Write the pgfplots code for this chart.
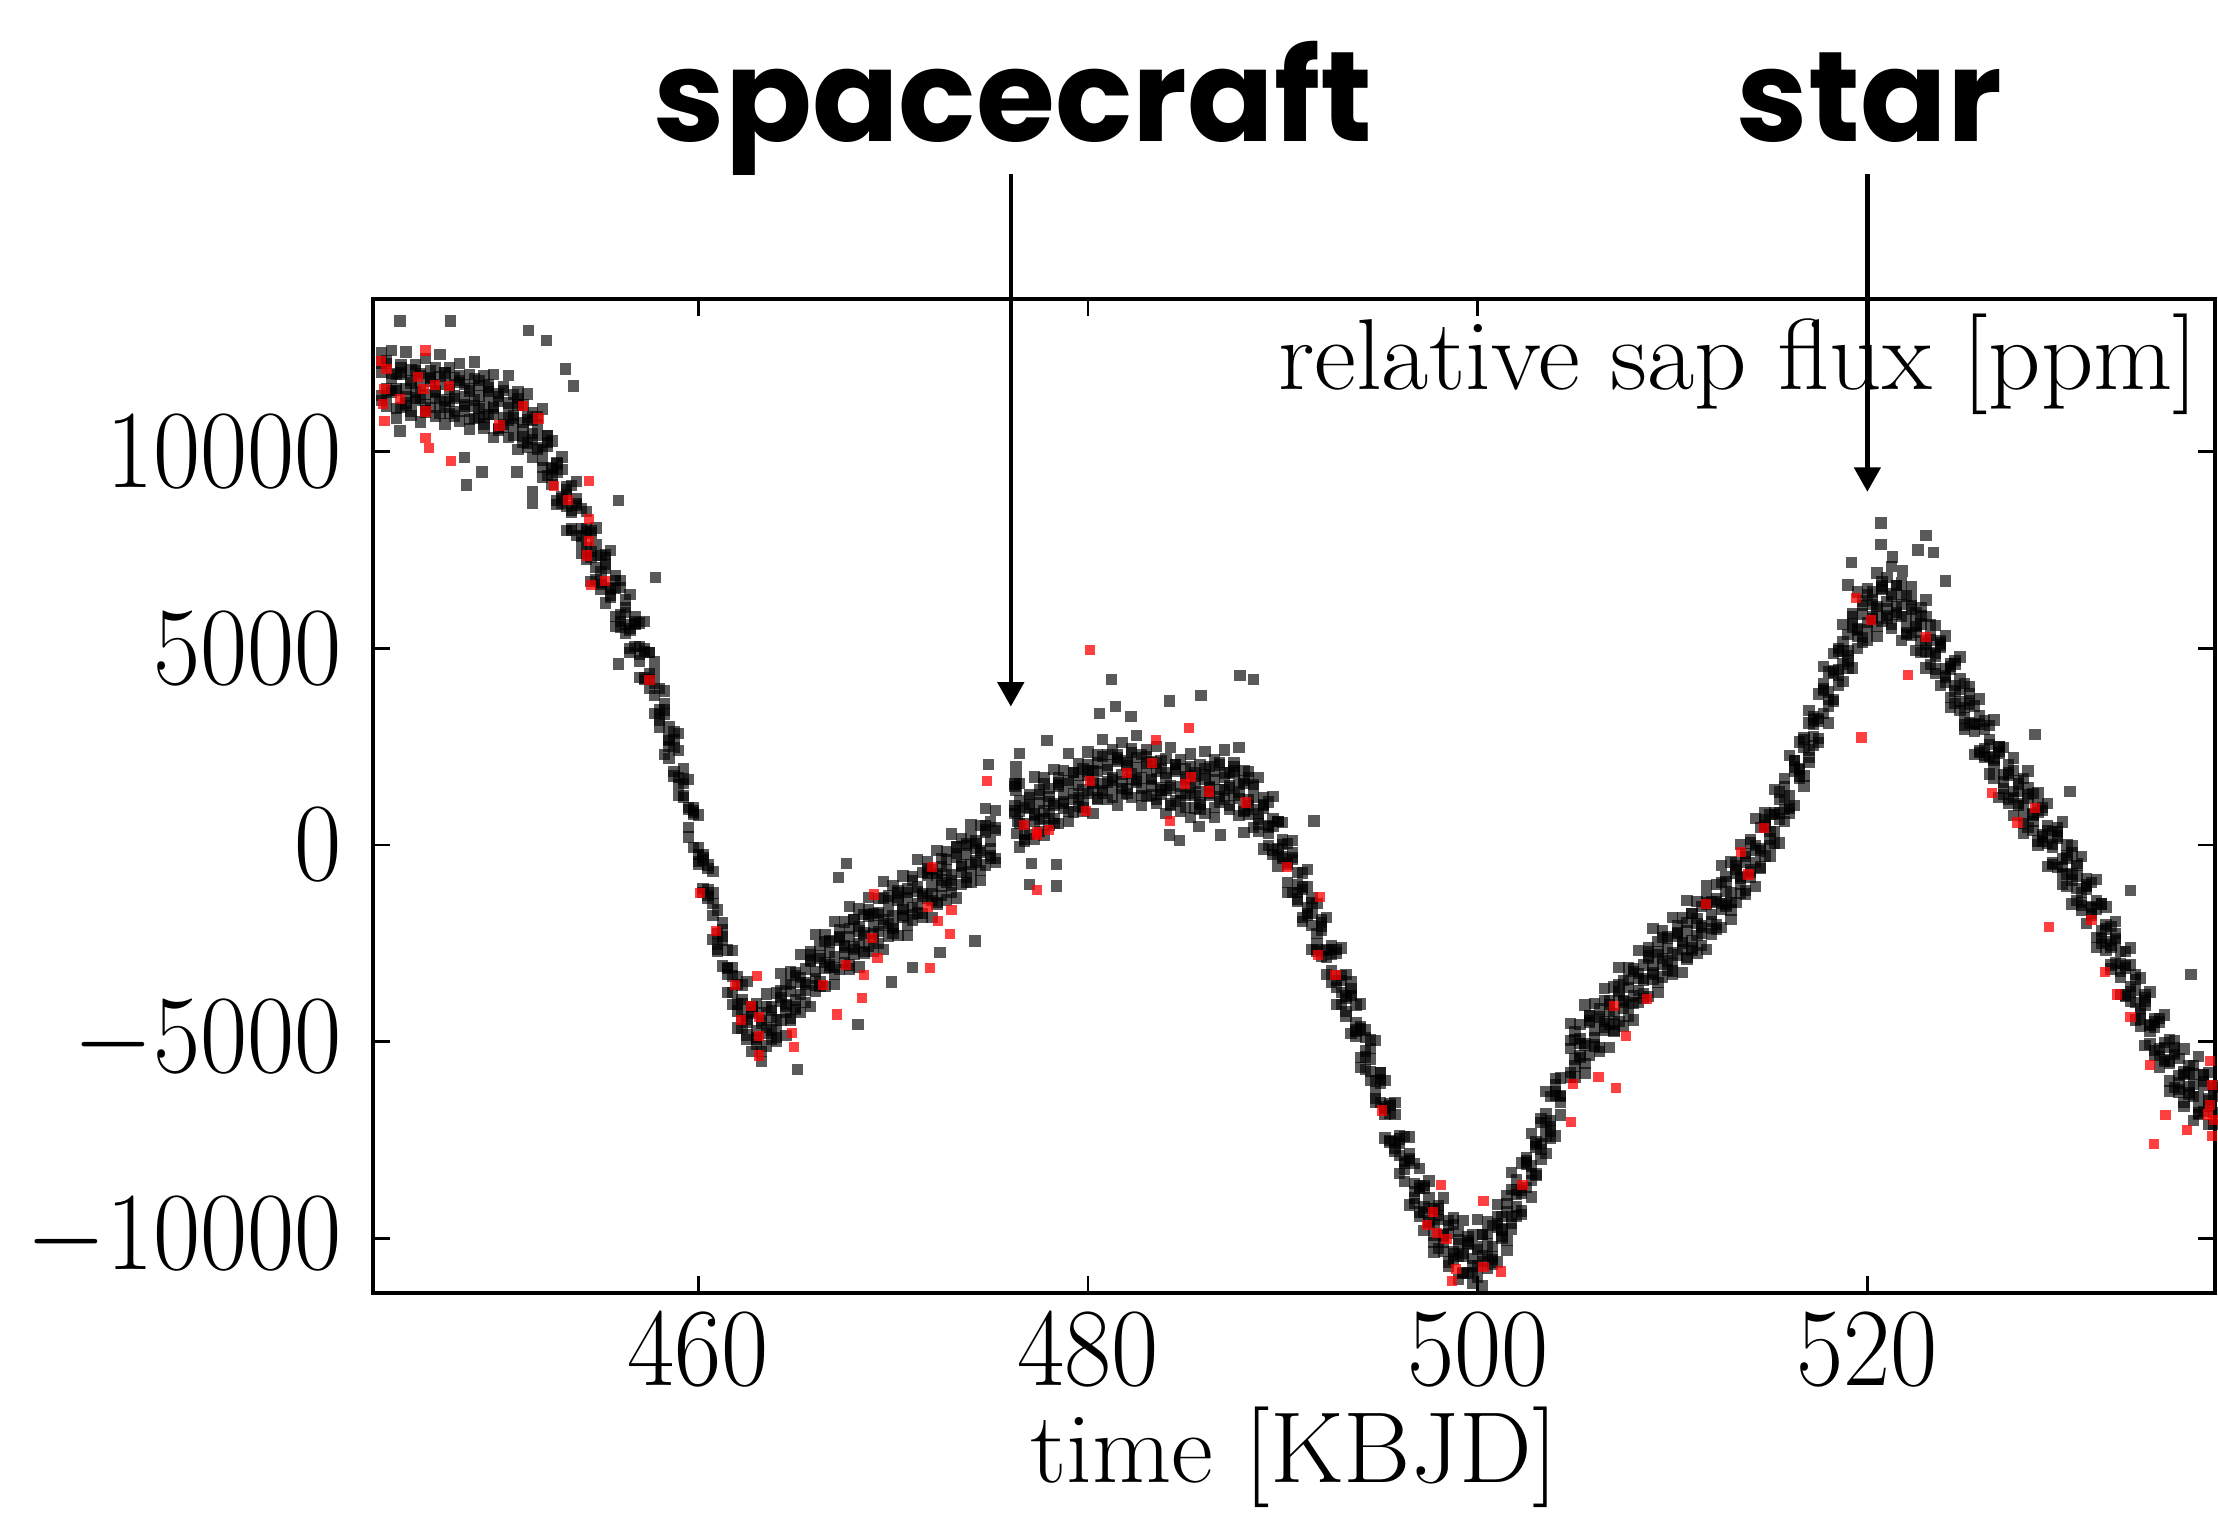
\documentclass[border=0pt]{standalone}
\usepackage{pgfplots}
\pgfplotsset{compat=1.18}
\usepackage{pgfplotstable}
\usepackage{graphicx}
\usepackage{fontspec}
\newfontfamily\pop{Poppins}
\usetikzlibrary{arrows.meta}

% light curve: for each time five readings across the band
\pgfplotstableread{
x a b c d e
443.75 12520 11420 12020 12230 11300
444.00 12230 11150 11610 11430 12300
444.25 12560 11500 11860 11980 11550
444.50 11950 10850 11550 11610 11100
444.75 12220 11120 11960 12010 12130
445.00 12530 11170 11590 11230 11400
445.25 12070 10920 11740 11800 11020
445.50 12220 11300 11360 11510 12050
445.75 11980 10750 11660 11930 11350
446.00 12360 11040 11450 11180 11000
446.25 11850 11120 11880 11780 12050
446.50 12140 10900 11540 11510 11350
446.75 12460 11280 11700 11910 10980
447.00 12000 10700 11310 11130 12000
447.25 12140 10960 11580 11700 11270
447.50 11880 11020 11350 11410 10900
447.75 12240 10780 11760 11810 11930
448.00 11700 11150 11390 11030 11200
448.25 11960 10570 11540 11600 10820
448.50 12280 10840 11160 11310 11850
448.75 11800 10870 11410 11680 11100
449.00 11920 10600 11150 10880 10700
449.25 11630 10950 11530 11430 11700
449.50 11960 10350 11140 11110 10950
449.75 11400 10590 11270 11480 10550
450.00 11640 10620 10860 10680 11550
450.25 11930 10350 11110 11230 10800
450.50 11450 10700 10850 10910 10400
450.75 11520 10050 11180 11230 11350
451.00 11180 10240 10740 10380 10550
451.25 11460 10220 10820 10880 10100
451.50 10800 9850 10310 10460 11000
451.75 10890 10050 10410 10680 10100
452.00 11080 9350 10050 9780 9600
452.25 10400 9390 10230 10130 10400
452.50 10270 9170 9590 9560 9400
452.75 9730 8650 9470 9680 8750
453.00 9860 8800 8860 8680 9550
453.25 9100 8000 8910 9030 8600
453.50 9140 8040 8450 8510 8000
453.75 9230 7870 8630 8680 8800
454.00 8550 7400 8040 7680 7850
454.25 8470 7550 7970 8030 7250
454.50 7930 6700 7310 7460 8000
454.75 8060 6740 7360 7630 7050
455.00 7350 6620 6950 6680 6500
455.25 7390 6150 7130 7030 7300
455.50 7480 6300 6540 6510 6350
455.75 6850 5550 6520 6730 5800
456.00 6720 5540 5860 5680 6550
456.25 6230 5370 5910 6030 5600
456.50 6360 4900 5450 5510 5000
456.75 5600 5050 5630 5680 5800
457.00 5640 4250 5040 4680 4850
457.25 5680 4240 4920 4980 4200
457.50 4900 3970 4210 4360 4900
457.75 4670 3350 4110 4380 3800
458.00 3980 3300 3450 3180 3000
458.25 3910 2300 3430 3330 3600
458.50 3000 2190 2690 2660 2500
458.75 2890 1870 2470 2680 1750
459.00 2830 1250 1710 1530 2400
459.25 1950 1200 1560 1680 1250
459.50 1670 200 900 960 450
459.75 880 -60 780 830 950
460.00 760 -480 -60 -420 -250
460.25 -250 -1200 -380 -320 -1100
460.50 -510 -1350 -1290 -1140 -600
460.75 -670 -2400 -1490 -1220 -1800
461.00 -1650 -2660 -2250 -2520 -2700
461.25 -1980 -3080 -2320 -2420 -2150
461.50 -2670 -3750 -3110 -3140 -3300
461.75 -2690 -3750 -3330 -3120 -4050
462.00 -3550 -4650 -4040 -4220 -3350
462.25 -3560 -4660 -4040 -3920 -4350
462.50 -3470 -4830 -4500 -4440 -4950
462.75 -4100 -5250 -4270 -4220 -4100
463.00 -4030 -4950 -4710 -5070 -4900
463.25 -4270 -5500 -4530 -4470 -5250
463.50 -3790 -5110 -4790 -4640 -4100
463.75 -4200 -4930 -4390 -4120 -4700
464.00 -3760 -5000 -4450 -4720 -4900
464.25 -3270 -4450 -3870 -3970 -3700
464.50 -3550 -4850 -4060 -4090 -4250
464.75 -3230 -4410 -3730 -3520 -4450
465.00 -3320 -4180 -3940 -4120 -3250
465.25 -2790 -4250 -3490 -3370 -3800
465.50 -3150 -3700 -3550 -3490 -4000
465.75 -2710 -4100 -2970 -2920 -2800
466.00 -2270 -3710 -3210 -3570 -3400
466.25 -2550 -3480 -2880 -2820 -3600
466.50 -2280 -3600 -3140 -2990 -2450
466.75 -2420 -3100 -2740 -2470 -3050
467.00 -1940 -3550 -2850 -3120 -3300
467.25 -2350 -3160 -2320 -2420 -2150
467.50 -1960 -2980 -2560 -2590 -2750
467.75 -1570 -3150 -2330 -2120 -3050
468.00 -1900 -2650 -2590 -2770 -1900
468.25 -1630 -3100 -2190 -2070 -2500
468.50 -1770 -2710 -2300 -2240 -2750
468.75 -1340 -2580 -1820 -1770 -1650
469.00 -1750 -2700 -2060 -2420 -2250
469.25 -1360 -2200 -1780 -1720 -2500
469.50 -920 -2650 -2040 -1890 -1350
469.75 -1300 -2310 -1690 -1420 -2000
470.00 -1030 -2130 -1800 -2070 -2250
470.25 -1220 -2300 -1320 -1420 -1150
470.50 -790 -1850 -1610 -1640 -1800
470.75 -1200 -2300 -1330 -1120 -2050
471.00 -810 -1910 -1590 -1770 -900
471.25 -370 -1730 -1190 -1070 -1500
471.50 -700 -1850 -1300 -1240 -1750
471.75 -430 -1350 -770 -720 -600
472.00 -620 -1850 -1060 -1420 -1250
472.25 -140 -1460 -780 -720 -1500
472.50 -550 -1280 -1040 -890 -350
472.75 -160 -1400 -640 -370 -950
473.00 280 -900 -750 -1020 -1200
473.25 -50 -1350 -220 -320 -50
473.50 170 -1010 -510 -540 -700
473.75 30 -830 -230 -20 -950
474.00 510 -950 -490 -670 200
474.25 100 -450 -90 30 -400
474.50 490 -900 -200 -140 -650
474.75 930 -510 330 380 500
475.00 600 -330 90 -270 -100
475.25 870 -450 370 430 -350
476.25 1480 800 860 1010 1550
476.50 1560 -50 860 1130 550
476.75 950 140 550 280 100
477.00 1290 270 1030 930 1200
477.25 1730 150 790 760 600
477.50 1400 650 1070 1280 350
477.75 1720 250 860 680 1550
478.00 1430 490 1110 1230 800
478.25 1910 670 1000 1060 550
478.50 1500 550 1530 1580 1700
478.75 1890 1050 1290 930 1100
479.00 2330 600 1570 1630 850
479.25 1850 840 1160 1310 1850
479.50 2070 970 1510 1780 1200
479.75 1930 850 1400 1130 950
480.00 2360 1300 1880 1780 2050
480.25 1900 800 1590 1560 1400
480.50 2290 1190 1870 2080 1150
480.75 2680 1320 1560 1380 2250
481.00 2300 1150 1910 2030 1600
481.25 2420 1500 1650 1710 1200
481.50 2230 1000 2130 2180 2300
481.75 2610 1290 1790 1430 1600
482.00 2150 1420 2020 2080 1300
482.25 2440 1200 1660 1810 2350
482.50 2780 1600 1960 2230 1650
482.75 2300 1000 1700 1430 1250
483.00 2420 1240 2080 1980 2250
483.25 2130 1270 1690 1660 1500
483.50 2510 1050 1870 2080 1150
483.75 1950 1400 1460 1280 2150
484.00 2190 800 1710 1830 1400
484.25 2480 1040 1450 1510 1000
484.50 2050 1120 1880 1930 2050
484.75 2170 850 1490 1130 1300
485.00 1930 1250 1670 1730 950
485.25 2310 700 1310 1460 2000
485.50 1750 940 1560 1830 1250
485.75 2040 1020 1350 1080 900
486.00 2380 800 1780 1680 1950
486.25 2000 1250 1490 1460 1300
486.50 2170 700 1670 1880 950
486.75 2030 1090 1410 1230 2100
487.00 2410 1170 1710 1830 1400
487.25 1850 900 1450 1510 1000
487.50 2090 1250 1830 1880 2000
487.75 2480 750 1540 1180 1350
488.00 1900 890 1570 1630 850
488.25 1870 770 1010 1160 1700
488.50 1530 450 1210 1480 900
488.75 1710 650 800 530 350
489.00 1000 -100 1030 930 1200
489.25 1090 -10 490 460 300
489.50 1230 -130 470 680 -250
489.75 600 -550 -90 -270 600
490.00 570 -350 10 130 -300
490.25 30 -1200 -500 -440 -950
490.50 110 -1210 -370 -320 -200
490.75 -700 -1430 -1010 -1370 -1200
491.00 -710 -1950 -1130 -1070 -1850
491.25 -620 -1800 -1740 -1590 -1050
491.50 -1350 -2650 -1740 -1470 -2050
491.75 -1480 -2660 -2250 -2520 -2700
492.00 -1970 -2830 -2070 -2170 -1900
492.25 -1840 -3300 -2660 -2690 -2850
492.50 -2650 -3200 -2780 -2570 -3500
492.75 -2660 -4050 -3440 -3620 -2750
493.00 -2620 -4060 -3440 -3320 -3750
493.25 -3300 -4230 -3900 -3840 -4350
493.50 -3480 -4800 -3820 -3770 -3650
493.75 -4070 -4750 -4510 -4870 -4700
494.00 -4040 -5650 -4680 -4620 -5400
494.25 -4900 -5710 -5390 -5240 -4700
494.50 -4960 -5980 -5440 -5170 -5750
494.75 -4970 -6550 -6000 -6270 -6450
495.00 -5800 -6550 -5970 -6070 -5800
495.25 -5980 -7450 -6660 -6690 -6850
495.50 -6570 -7510 -6830 -6620 -7550
495.75 -6540 -7780 -7540 -7720 -6850
496.00 -7400 -8350 -7590 -7470 -7900
496.25 -7410 -8250 -8100 -8040 -8550
496.50 -7420 -9150 -8020 -7970 -7850
496.75 -8100 -9110 -8610 -8970 -8800
497.00 -8230 -9330 -8730 -8670 -9450
497.25 -8720 -9800 -9340 -9190 -8650
497.50 -8540 -9600 -9240 -8970 -9550
497.75 -9250 -10350 -9650 -9920 -10100
498.00 -9160 -10260 -9420 -9520 -9250
498.25 -8970 -10330 -9910 -9940 -10100
498.50 -9550 -10700 -9880 -9670 -10600
498.75 -9480 -10400 -10340 -10520 -9650
499.00 -9820 -11050 -10140 -10020 -10450
499.25 -9540 -10860 -10450 -10390 -10900
499.50 -10150 -10880 -10120 -10070 -9950
499.75 -9910 -11150 -10510 -10870 -10700
500.00 -9520 -10700 -10280 -10220 -11000
500.25 -9900 -11200 -10590 -10440 -9900
500.50 -9580 -10760 -10140 -9870 -10450
500.75 -9670 -10530 -10200 -10470 -10650
501.00 -9140 -10600 -9620 -9720 -9450
501.25 -9450 -10000 -9760 -9790 -9950
501.50 -8910 -10300 -9330 -9120 -10050
501.75 -8320 -9760 -9440 -9620 -8750
502.00 -8500 -9430 -8890 -8770 -9200
502.25 -8080 -9400 -8850 -8790 -9300
502.50 -8020 -8700 -8120 -8070 -7950
502.75 -7340 -8950 -8160 -8520 -8350
503.00 -7550 -8360 -7680 -7620 -8400
503.25 -6960 -7980 -7740 -7590 -7050
503.50 -6270 -7850 -7090 -6820 -7400
503.75 -6400 -7150 -7000 -7270 -7450
504.00 -5930 -7400 -6270 -6370 -6100
504.25 -5920 -6860 -6360 -6390 -6550
504.75 -4540 -5780 -5180 -4970 -5900
505.00 -4950 -5900 -5440 -5620 -4750
505.25 -4560 -5400 -5040 -4920 -5350
505.50 -4070 -5800 -5100 -5040 -5550
505.75 -4350 -5360 -4520 -4470 -4350
506.00 -4030 -5130 -4710 -5070 -4900
506.25 -4170 -5250 -4430 -4370 -5150
506.50 -3640 -4700 -4640 -4490 -3950
506.75 -4050 -5150 -4240 -3970 -4550
507.00 -3610 -4710 -4300 -4570 -4750
507.25 -3120 -4480 -3720 -3820 -3550
507.50 -3450 -4600 -3960 -3990 -4150
507.75 -3130 -4050 -3630 -3420 -4350
508.00 -3220 -4450 -3840 -4020 -3150
508.25 -2690 -4010 -3390 -3270 -3700
508.50 -3050 -3780 -3450 -3390 -3900
508.75 -2610 -3850 -2870 -2820 -2700
509.00 -2120 -3300 -3060 -3420 -3250
509.25 -2450 -3750 -2780 -2720 -3500
509.50 -2180 -3360 -3040 -2890 -2350
509.75 -2320 -3180 -2640 -2370 -2950
510.00 -1840 -3300 -2750 -3020 -3200
510.25 -2250 -2800 -2220 -2320 -2050
510.50 -1860 -3250 -2460 -2490 -2650
510.75 -1420 -2860 -2180 -1970 -2900
511.00 -1750 -2680 -2440 -2620 -1750
511.25 -1430 -2750 -1990 -1870 -2300
511.50 -1570 -2250 -2100 -2040 -2550
511.75 -1040 -2650 -1520 -1470 -1350
512.00 -1450 -2260 -1760 -2120 -1950
512.25 -1010 -2030 -1430 -1370 -2150
512.50 -520 -2100 -1640 -1490 -950
512.75 -800 -1550 -1190 -920 -1500
513.00 -430 -1900 -1200 -1470 -1650
513.25 -520 -1460 -620 -720 -450
513.50 10 -1230 -810 -840 -1000
513.75 -300 -1250 -430 -220 -1150
514.00 140 -700 -640 -820 50
514.25 680 -1050 -140 -20 -450
514.50 450 -560 -150 -90 -600
514.75 820 -280 480 530 650
515.00 780 -300 340 -20 150
515.25 1410 350 770 830 50
515.50 1150 50 660 810 1350
515.75 1690 590 1210 1480 900
516.00 2280 920 1250 980 800
516.25 2150 1000 1980 1880 2150
516.50 2620 1700 1940 1910 1750
516.75 2730 1500 2470 2680 1750
517.00 3410 2090 2410 2230 3100
517.25 3250 2520 3060 3180 2750
517.50 3840 2600 3150 3210 2700
517.75 4530 3350 3930 3980 4100
518.00 4400 3100 3890 3530 3700
518.25 4870 3690 4370 4430 3650
518.50 4930 4070 4310 4460 5000
518.75 5610 4150 4910 5180 4600
519.00 5350 4800 4950 4680 4500
519.25 5890 4500 5630 5530 5800
519.50 6430 4990 5490 5460 5300
519.75 6200 5270 5870 6080 5150
520.00 6520 5200 5660 5480 6350
520.25 6430 5750 6110 6230 5800
520.50 6910 5300 6000 6060 5550
520.75 6500 5690 6530 6580 6700
521.00 6790 5770 6190 5830 6000
521.25 7080 5500 6320 6380 5600
521.50 6600 5850 5910 6060 6600
521.75 6670 5200 6110 6380 5800
522.00 6330 5390 5800 5530 5350
522.25 6560 5320 6080 5980 6250
522.50 5900 4950 5590 5560 5400
522.75 6040 5200 5620 5830 4900
523.00 6230 4500 5110 4930 5800
523.25 5600 4590 5210 5330 4900
523.50 5570 4470 4800 4860 4350
523.75 5130 4050 5030 5080 5200
524.00 5310 4250 4490 4130 4300
524.25 4600 3500 4470 4530 3750
524.50 4690 3590 3910 4060 4600
524.75 4780 3420 3960 4230 3650
525.00 4100 2950 3500 3230 3050
525.25 4020 3100 3680 3580 3850
525.50 3530 2300 3090 3060 2900
525.75 3710 2390 3070 3280 2350
526.00 2950 2220 2460 2280 3150
526.25 3040 1800 2560 2680 2250
526.50 3180 2000 2150 2210 1700
526.75 2500 1200 2330 2380 2500
527.00 2470 1290 1790 1430 1600
527.25 2030 1170 1770 1830 1050
527.50 2210 750 1210 1360 1900
527.75 1550 1000 1360 1630 1050
528.00 1690 300 1000 730 550
528.25 1880 440 1280 1180 1450
528.50 1300 370 790 760 600
528.75 1320 0 820 1030 100
529.00 880 200 260 80 950
529.25 1060 -550 360 480 50
529.50 350 -460 -50 10 -500
529.75 440 -580 180 230 350
530.00 580 -1000 -360 -720 -550
530.25 0 -750 -330 -270 -1050
530.50 -30 -1500 -890 -740 -200
530.75 -470 -1410 -790 -520 -1100
531.00 -290 -1530 -1200 -1470 -1650
531.25 -1050 -2000 -1020 -1120 -850
531.50 -960 -1800 -1560 -1590 -1750
531.75 -870 -2600 -1630 -1420 -2350
532.00 -1500 -2510 -2190 -2370 -1500
532.25 -1580 -2680 -2140 -2020 -2450
532.50 -2070 -3150 -2600 -2540 -3050
532.75 -1940 -3000 -2420 -2370 -2250
533.00 -2700 -3800 -3010 -3370 -3200
533.25 -2710 -3810 -3130 -3070 -3850
533.50 -2620 -3980 -3740 -3590 -3050
533.75 -3300 -4450 -3690 -3420 -4000
534.00 -3380 -4300 -4150 -4420 -4600
534.25 -3870 -5100 -3970 -4070 -3800
534.50 -3740 -5060 -4560 -4590 -4750
534.75 -4500 -5230 -4630 -4420 -5350
535.00 -4410 -5650 -5190 -5370 -4500
535.25 -4320 -5500 -5140 -5020 -5450
535.50 -4950 -6250 -5550 -5490 -6000
535.75 -4980 -6160 -5320 -5270 -5150
536.00 -5420 -6280 -5860 -6220 -6050
536.25 -5190 -6650 -5830 -5770 -6550
536.50 -5800 -6350 -6290 -6140 -5600
536.75 -5610 -7000 -6090 -5820 -6400
537.00 -5370 -6810 -6400 -6670 -6850
537.25 -5850 -6780 -6020 -6120 -5850
537.50 -5780 -7100 -6460 -6490 -6650
537.75 -6120 -6800 -6380 -6170 -7100
538.00 -5840 -7450 -6840 -7020 -6150
}\lc

% scattered points away from the band
\pgfplotstableread{
x y
444.7 13320
447.3 13320
451.3 13070
452.2 12820
453.2 12100
453.6 11670
444.7 10520
448.0 9840
448.9 9480
448.1 9150
450.7 9480
451.5 8980
451.5 8690
455.9 8760
457.8 6790
455.9 4600
481.2 4200
487.8 4300
488.5 4200
485.8 3800
484.2 3660
481.4 3520
480.6 3340
482.2 3270
477.9 2660
476.5 2330
474.9 2050
476.3 2000
476.3 1700
476.3 1400
476.4 600
476.35 300
477.1 -470
477.0 -1000
478.4 -1040
478.4 -500
484.2 250
484.7 110
486.8 250
488.0 320
491.6 610
485.7 470
467.6 -470
467.2 -830
468.2 -4560
465.1 -5710
474.2 -2440
472.4 -2730
471.0 -3120
469.9 -3480
520.7 8180
520.7 7640
523.0 7860
523.4 7430
522.6 7500
519.2 7180
521.8 6960
519.0 6610
524.0 6710
521.3 7320
528.6 2800
530.4 1360
533.5 -1150
536.6 -3300
}\lo

% flagged points (red)
\pgfplotstableread{
x y
443.9 11600
443.9 10770
444.7 11340
446.0 12570
445.9 11600
446.0 11020
446.0 10340
446.2 10090
447.2 11670
447.3 9760
451.0 11160
451.8 10840
449.8 10660
443.7 12300
443.8 11200
444.0 12100
445.6 11900
446.5 11700
454.4 9260
452.6 9120
453.3 8760
454.4 8290
454.4 7720
454.3 7360
455.2 6710
454.5 6610
457.5 4200
460.1 -1220
460.9 -2190
461.9 -3550
462.7 -4090
463.1 -4380
462.2 -4450
463.1 -4850
463.1 -5350
464.8 -4770
463.0 -3340
464.9 -5130
466.4 -3550
467.6 -3050
468.5 -3300
469.0 -1260
468.9 -2370
469.2 -2870
472.0 -570
471.8 -1580
472.3 -1940
473.0 -1650
472.9 -2260
471.9 -3120
468.4 -3880
467.1 -4310
474.8 1620
476.7 500
477.4 320
477.4 -1150
477.4 250
478.0 390
480.1 1620
482.0 1830
483.3 2080
483.5 2660
485.0 1540
485.3 1720
486.2 1360
485.2 2980
488.1 1080
484.2 610
479.9 860
480.1 4950
490.2 -570
491.9 -1330
491.8 -2800
492.7 -3300
495.1 -6750
498.1 -8650
497.7 -9330
497.4 -9660
497.9 -9870
498.4 -10020
498.9 -10770
498.7 -11090
500.3 -10730
501.2 -10840
500.3 -9050
502.3 -8650
504.8 -7040
504.9 -6070
506.2 -5890
507.1 -6170
507.6 -4850
507.0 -4090
508.7 -3910
511.7 -1510
513.5 -180
513.9 -750
514.7 430
519.4 6280
520.2 5710
523.0 5280
522.1 4310
519.7 2730
526.4 1330
527.7 570
529.3 -2080
528.6 930
531.5 -1900
532.2 -3230
532.8 -3800
533.5 -4380
534.5 -5600
535.3 -6860
536.4 -7250
534.7 -7610
537.6 -5500
537.7 -6100
537.6 -6600
537.8 -7000
537.7 -7400
537.5 -6850
}\lr

\pgfplotsset{
  blk/.style={only marks, mark=square*, mark size=1.0pt,
    mark options={draw opacity=0, fill=black, fill opacity=0.65}},
  redpt/.style={only marks, mark=square*, mark size=0.9pt,
    mark options={draw opacity=0, fill=red, fill opacity=0.75}},
}

\newcommand{\vs}[1]{\scalebox{1.05}[1.14]{#1}}
\newcommand{\vt}[1]{\scalebox{1.1}[1.08]{#1}}

\begin{document}
\begin{tikzpicture}
\useasboundingbox (-65.9pt,-39pt) rectangle (326.1pt,228.5pt);
\begin{axis}[
    scale only axis,
    width=325.6pt,
    height=175.6pt,
    xmin=443.3, xmax=537.85,
    ymin=-11385, ymax=13870,
    xtick={460,480,500,520},
    ytick={-10000,-5000,0,5000,10000},
    scaled y ticks=false,
    minor tick num=0,
    tick align=inside,
    major tick length=3pt,
    tick style={black, line width=0.5pt},
    axis line style={line width=0.75pt},
    tick label style={font=\fontsize{16.5}{16.5}\selectfont, inner sep=0pt},
    xticklabel style={yshift=-3.5pt},
    yticklabel style={xshift=-5.25pt},
    xticklabel={\vs{$\pgfmathprintnumber{\tick}$}},
    yticklabel={\vs{$\pgfmathprintnumber{\tick}$}},
    /pgf/number format/1000 sep={},
    xlabel={\vt{time [KBJD]}},
    xlabel style={at={(rel axis cs:0.5,0)}, anchor=base, yshift=-33.5pt,
      inner sep=0pt, font=\fontsize{16.5}{16.5}\selectfont},
    clip mode=individual,
]
\addplot[blk] table[x=x, y=a]{\lc};
\addplot[blk] table[x=x, y=b]{\lc};
\addplot[blk] table[x=x, y=c]{\lc};
\addplot[blk] table[x=x, y=d]{\lc};
\addplot[blk] table[x=x, y=e]{\lc};
\addplot[blk] table[x=x, y=y]{\lo};
\addplot[redpt] table[x=x, y=y]{\lr};

\node[anchor=base east, inner sep=0pt, xshift=-2.75pt, yshift=-16pt,
  font=\fontsize{16.5}{16.5}\selectfont] at (rel axis cs:1,1)
  {\vt{relative sap flux [ppm]}};

\node[anchor=base, inner sep=0pt, font=\pop\bfseries\fontsize{22.6}{22.6}\selectfont]
  at (axis cs:476.15,17890) {spacecraft};
\node[anchor=base, inner sep=0pt, font=\pop\bfseries\fontsize{22.6}{22.6}\selectfont]
  at (axis cs:520.1,17890) {star};
\draw[line width=0.8pt, -{Triangle[width=4.6pt,length=4.3pt]}]
  (axis cs:476.04,17056) -- (axis cs:476.04,3519);
\draw[line width=0.8pt, -{Triangle[width=4.6pt,length=4.3pt]}]
  (axis cs:520.0,17056) -- (axis cs:520.0,8979);
\end{axis}
\end{tikzpicture}
\end{document}
